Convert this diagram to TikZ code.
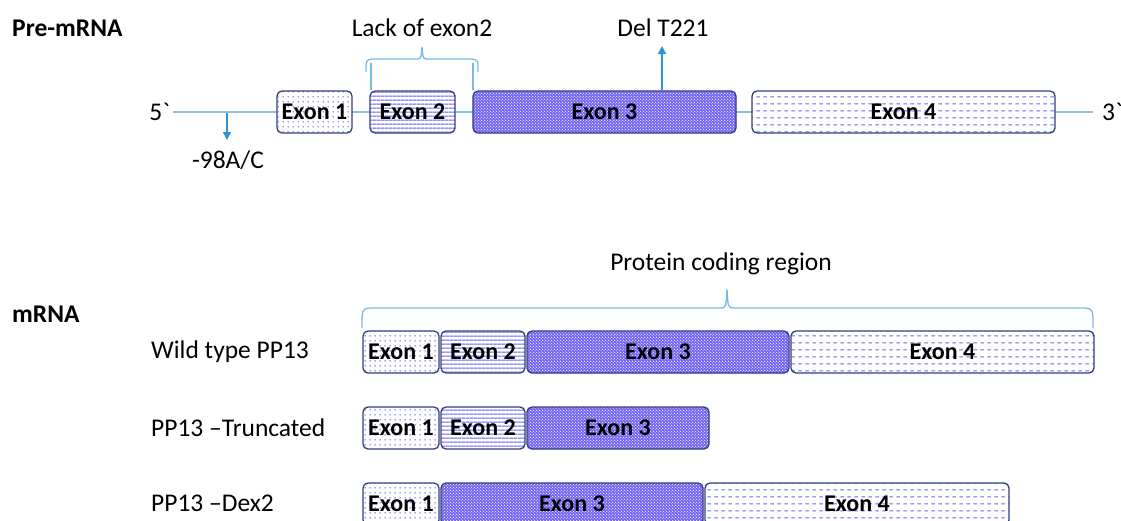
\documentclass[tikz,border=0pt]{standalone}
\usepackage{fontspec}
\setmainfont{Carlito}
\newfontfamily\rawfont[Ligatures=TeXOff]{Carlito}
\usetikzlibrary{patterns.meta,arrows.meta}
\definecolor{exborder}{RGB}{50,62,125}
\definecolor{rnaline}{RGB}{135,192,232}
\definecolor{arrcol}{RGB}{40,150,210}
\definecolor{pdotA}{RGB}{135,125,245}
\definecolor{plines}{RGB}{100,88,240}
\definecolor{pfill}{RGB}{112,95,242}
\definecolor{pdash}{RGB}{115,100,245}
\tikzdeclarepattern{name=exdotsA, type=uncolored,
  bounding box={(0,0) and (4.6pt,4.6pt)}, tile size={(4.6pt,4.6pt)},
  code={\fill (2.3pt,2.3pt) circle (0.85pt);}}
\tikzdeclarepattern{name=exlines, type=uncolored,
  bounding box={(0,0) and (4.3pt,4.3pt)}, tile size={(4.3pt,4.3pt)},
  code={\fill (0,1.7pt) rectangle (4.3pt,2.6pt);}}
\tikzdeclarepattern{name=exspeck, type=uncolored,
  bounding box={(0,0) and (3.4pt,3.4pt)}, tile size={(3.4pt,3.4pt)},
  code={\fill (0.85pt,0.85pt) circle (0.85pt); \fill (2.55pt,2.55pt) circle (0.7pt);}}
\tikzdeclarepattern{name=exdash, type=uncolored,
  bounding box={(0,0) and (7pt,7pt)}, tile size={(7pt,7pt)},
  code={\fill (0.5pt,3pt) rectangle (4.5pt,4pt);}}
\tikzset{
  exon/.style={draw=exborder, line width=1.3pt, rounded corners=5pt, minimum height=42pt,
    inner sep=0pt, font=\fontsize{24}{28}\selectfont\bfseries},
  exA/.style={preaction={fill=white}, pattern=exdotsA, pattern color=pdotA},
  exB/.style={preaction={fill=white}, pattern=exlines, pattern color=plines},
  exC/.style={preaction={fill=pfill}, pattern=exspeck, pattern color=white!85!pfill},
  exD/.style={preaction={fill=white}, pattern=exdash, pattern color=pdash},
  txt/.style={inner sep=0pt, font=\fontsize{25.5}{30}\selectfont},
  btxt/.style={inner sep=0pt, font=\fontsize{25.5}{30}\selectfont\bfseries},
  rna/.style={draw=rnaline, line width=1.3pt},
  brc/.style={draw=rnaline!85!arrcol, line width=1.3pt},
  arr/.style={draw=arrcol, line width=1.5pt, -{Triangle[length=8pt,width=8pt]}}
}
\newcommand\mkexon[6]{\node[exon,#5,minimum width={#3-#2}] (#1) at ({(#2+#3)/2},#4) {#6};}
\begin{document}
\begin{tikzpicture}[x=1pt,y=-1pt]
\useasboundingbox (0,0) rectangle (1121,520);
% headings
\node[btxt, anchor=west] (hpre) at (12,28) {Pre-mRNA};
\node[btxt, anchor=west] (hm) at (12,314) {mRNA};
% pre-mRNA
\node[txt, anchor=east, font=\fontsize{25.5}{30}\rawfont] (five) at (170,112) {5`};
\node[txt, anchor=west, font=\fontsize{25.5}{30}\rawfont] (three) at (1102,112) {3`};
\draw[rna] ([xshift=3pt]five.east) -- ([xshift=-9pt]three.west);
\mkexon{p1}{277}{352}{112}{exA}{Exon 1}
\mkexon{p2}{370}{455}{112}{exB}{Exon 2}
\mkexon{p3}{473}{736}{112}{exC}{Exon 3}
\mkexon{p4}{752}{1055}{112}{exD}{Exon 4}
% -98A/C
\node[txt] (m98) at (228,160) {-98A/C};
\coordinate (m98s) at (227,113);
\coordinate (m98e) at (227,140);
\draw[arr] (m98s) -- (m98e);
% Del T221
\node[txt] (del) at (663,28) {Del T221};
\coordinate (dele) at (662,46);
\draw[arr] (p3.north -| dele) -- (dele);
% Lack of exon2
\node[txt] (lack) at (422,28) {Lack of exon2};
\draw[brc] (366,72) .. controls (366,60) .. (372,59) -- (416,59)
  .. controls (421,59) .. (422,47) .. controls (423,59) .. (428,59) -- (472,59)
  .. controls (478,60) .. (478,72);
\coordinate (lkl) at (371,63);
\coordinate (lkr) at (473,63);
\draw[brc] (lkl) -- (lkl |- p2.north);
\draw[brc] (lkr) -- (lkr |- p3.north);
% Protein coding region
\node[txt] (prot) at (721,264) {Protein coding region};
\draw[brc] (362,328) .. controls (362,309) .. (370,308) -- (720,308)
  .. controls (726,308) .. (727,289) .. controls (728,308) .. (734,308) -- (1085,308)
  .. controls (1093,309) .. (1093,328);
% mRNA rows
\node[txt, anchor=west] (wt) at (151,352) {Wild type PP13};
\mkexon{a1}{363}{439}{352}{exA}{Exon 1}
\mkexon{a2}{441}{525}{352}{exB}{Exon 2}
\mkexon{a3}{527}{789}{352}{exC}{Exon 3}
\mkexon{a4}{791}{1094}{352}{exD}{Exon 4}
\node[txt, anchor=west] (tr) at (151,428) {PP13 –Truncated};
\mkexon{b1}{363}{439}{428}{exA}{Exon 1}
\mkexon{b2}{441}{525}{428}{exB}{Exon 2}
\mkexon{b3}{527}{709}{428}{exC}{Exon 3}
\node[txt, anchor=west] (dx) at (151,503) {PP13 –Dex2};
\mkexon{c1}{363}{439}{504}{exA}{Exon 1}
\mkexon{c3}{441}{703}{504}{exC}{Exon 3}
\mkexon{c4}{705}{1009}{504}{exD}{Exon 4}
\end{tikzpicture}
\end{document}
